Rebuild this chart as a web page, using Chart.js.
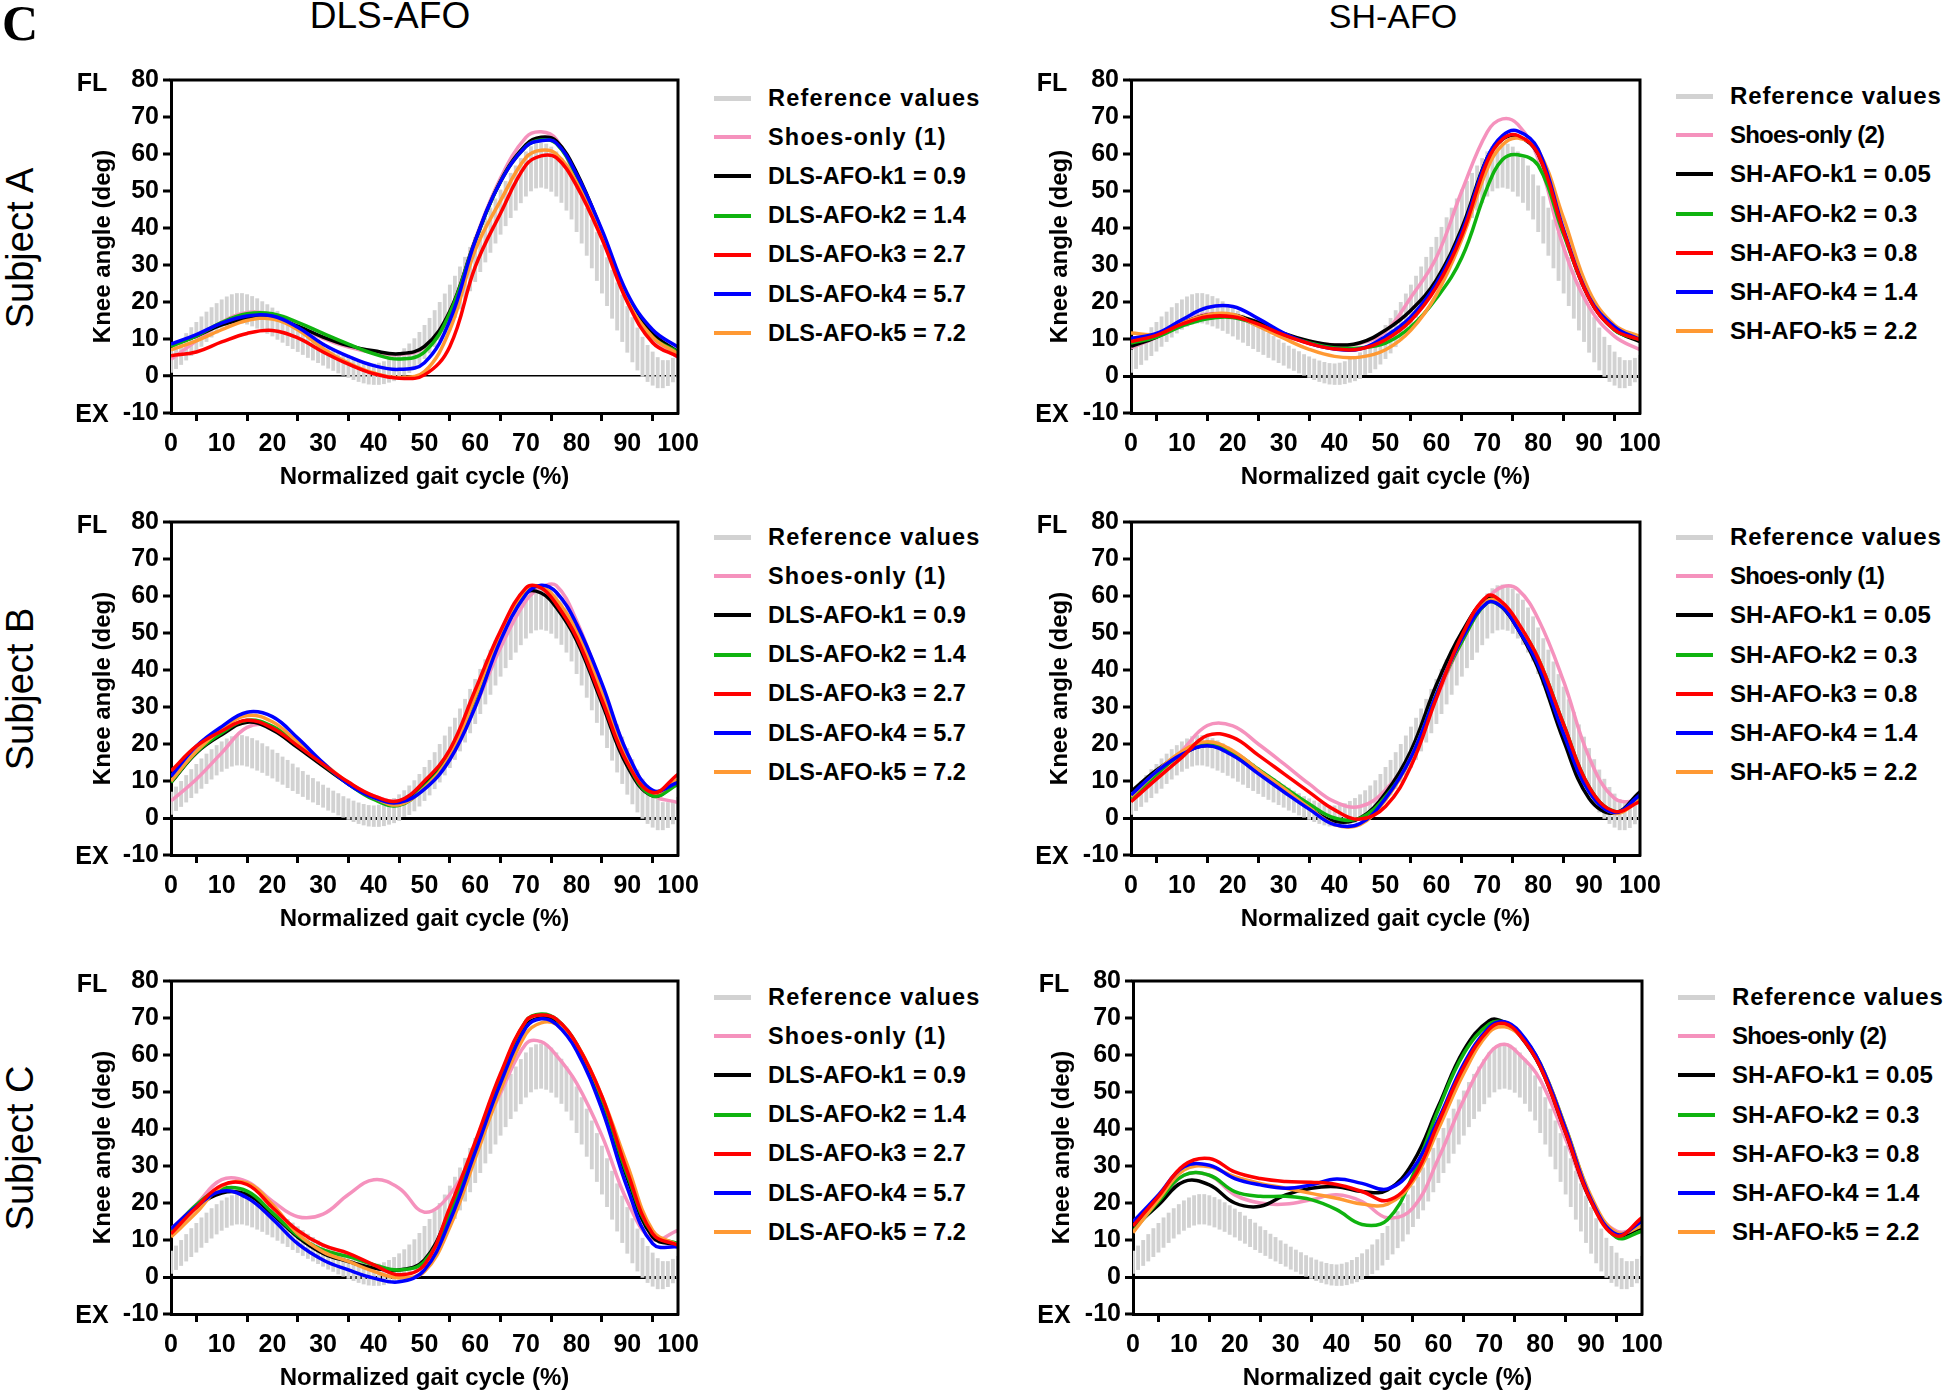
<!DOCTYPE html>
<html>
<head>
<meta charset="utf-8">
<script src="https://cdn.jsdelivr.net/npm/chart.js@4.4.1/dist/chart.umd.min.js"></script>
<style>
  body { margin: 0; background: #fff; width: 1946px; height: 1393px; position: relative; overflow: hidden;
         font-family: 'Liberation Sans', Arial, sans-serif; color: #000; }
  .abs { position: absolute; white-space: nowrap; }
  .ctr { transform: translate(-50%, -50%); }
  .rot { transform: translate(-50%, -50%) rotate(-90deg); }
  canvas { position: absolute; }
  .leg { position: absolute; height: 30px; display: flex; align-items: center; font-weight: bold; white-space: nowrap; }
  .leg span.ln { display: inline-block; width: 37px; height: 4px; }
</style>
</head>
<body>
<div class="abs" style="left:2px; top:-6px; font: bold 50px 'Liberation Serif', serif;">C</div>
<div class="abs ctr" style="left:390px; top:16px; font-size:37px;">DLS-AFO</div>
<div class="abs ctr" style="left:1393px; top:16px; font-size:34px;">SH-AFO</div>
<div class="abs rot" style="left:20px; top:248px; font-size:38px;">Subject A</div>
<div class="abs rot" style="left:20px; top:689px; font-size:38px;">Subject B</div>
<div class="abs rot" style="left:20px; top:1148px; font-size:38px;">Subject C</div>
<div id="root"></div>

<script>
// x positions (% gait cycle) of the sampled curves
const X_PCT = [0, 5, 10, 15, 20, 25, 30, 35, 40, 45, 50, 55, 60, 65, 70, 73, 76, 80, 85, 90, 95, 100];

// reference (normal) knee angle, mean and SD at every 1 %
const REF_MEAN = [
  4.0, 5.2, 6.5, 7.9, 9.3, 10.6, 12.0, 13.3, 14.5, 15.6,
  16.6, 17.4, 18.0, 18.3, 18.3, 18.0, 17.5, 16.9, 16.2, 15.4,
  14.6, 13.7, 12.8, 11.9, 11.0, 10.1, 9.2, 8.3, 7.5, 6.7,
  5.9, 5.1, 4.4, 3.7, 3.0, 2.4, 1.8, 1.3, 0.9, 0.6,
  0.5, 0.6, 0.9, 1.4, 2.0, 2.8, 3.7, 4.8, 6.0, 7.5,
  9.2, 10.9, 12.8, 14.8, 16.9, 19.1, 21.4, 23.8, 26.3, 28.9,
  31.5, 34.2, 36.8, 39.4, 41.9, 44.3, 46.6, 48.8, 50.8, 52.8,
  54.6, 56.0, 56.8, 57.0, 56.7, 55.9, 54.6, 52.9, 50.8, 48.4,
  45.2, 42.2, 39.0, 35.7, 32.3, 28.9, 25.5, 22.1, 18.8, 15.6,
  12.6, 9.8, 7.3, 5.2, 3.4, 2.0, 0.9, 0.5, 0.8, 1.6, 2.6
];
const REF_SD = [
  3.0, 3.2, 3.4, 3.6, 3.8, 3.9, 4.0, 4.0, 4.0, 4.0,
  4.0, 4.0, 4.0, 4.0, 4.0, 4.0, 4.0, 4.0, 3.9, 3.9,
  3.8, 3.8, 3.7, 3.7, 3.6, 3.5, 3.4, 3.3, 3.2, 3.1,
  3.0, 3.0, 2.9, 2.9, 2.8, 2.8, 2.8, 2.8, 2.8, 2.8,
  2.8, 2.9, 3.0, 3.1, 3.3, 3.5, 3.7, 3.9, 4.1, 4.3,
  4.5, 4.7, 4.9, 5.1, 5.3, 5.5, 5.6, 5.7, 5.8, 5.9,
  6.0, 6.0, 6.0, 6.0, 6.0, 6.0, 6.0, 6.0, 6.0, 6.0,
  6.0, 6.0, 6.0, 6.0, 6.0, 6.0, 6.0, 6.0, 6.0, 6.0,
  6.2, 6.3, 6.4, 6.5, 6.5, 6.5, 6.5, 6.5, 6.4, 6.3,
  6.2, 6.0, 5.7, 5.3, 4.9, 4.5, 4.1, 3.7, 3.4, 3.2, 3.0
];

// Subject A, DLS-AFO
const A_DLS_SHOES = [4.5, 9.5, 14.5, 17.2, 16.5, 13.5, 10.2, 7.8, 6.3, 5.8, 7.8, 17.5, 37, 53.5, 64.5, 66, 64, 53, 38, 20.5, 10, 5];
const A_DLS_K1 = [8.3, 10.8, 13.8, 15.5, 15.6, 13.5, 10.5, 8.2, 6.8, 6.0, 8.0, 17.5, 36.5, 52.7, 62.5, 64.5, 63.5, 55, 39, 21, 11.5, 6.5];
const A_DLS_K2 = [8.0, 10.8, 14.5, 16.8, 16.8, 14.5, 11.5, 8.6, 6.0, 4.6, 6.5, 17, 36.5, 52.5, 62, 63.8, 62.8, 54, 38.5, 20.5, 10.5, 6.5];
const A_DLS_K3 = [5.5, 6.5, 9.2, 11.5, 12.3, 10.3, 6.5, 3.2, 0.6, -0.6, 0.3, 8, 29.5, 44, 57, 59.5, 59, 51.4, 37, 20, 9, 5.2];
const A_DLS_K4 = [8.6, 11.2, 14.3, 16.2, 16.2, 13.2, 8.6, 5.3, 2.8, 1.8, 3.6, 15, 36.5, 52.5, 62, 63.6, 63, 54.5, 39.5, 22.3, 12.5, 7.8];
const A_DLS_K5 = [7.1, 9.5, 12.5, 15.0, 15.4, 12.5, 7.4, 3.5, 0.8, -0.4, 1.2, 12.5, 34, 47.4, 59, 61, 60, 52.3, 38, 20.5, 10.5, 6.0];

// Subject A, SH-AFO
const A_SH_SHOES = [7.6, 10.5, 14.5, 16.8, 16.3, 13.5, 10.7, 9.2, 8.4, 8.8, 12, 21.3, 32, 50, 66, 69.5, 68, 58.7, 34.7, 18.7, 10.7, 7.1];
const A_SH_K1 = [8.0, 10.5, 14.2, 16.5, 16.5, 14.5, 11.5, 9.5, 8.4, 9.0, 12.4, 17.8, 26, 40, 59, 64, 64.8, 60, 39, 21, 12.5, 9.3];
const A_SH_K2 = [8.9, 10.5, 13.5, 15.5, 15.8, 13.8, 11.1, 9.0, 7.6, 7.6, 8.9, 13.3, 21, 32, 51, 58.5, 59.8, 56.9, 38.2, 21.3, 12.4, 9.8];
const A_SH_K3 = [9.3, 11.0, 14.0, 16.0, 16.0, 14.0, 11.1, 8.8, 7.3, 7.3, 9.8, 15, 24, 38, 58, 64, 65, 60, 39, 21, 12.5, 9.8];
const A_SH_K4 = [10.2, 11.5, 15.2, 18.5, 18.8, 15.5, 11.6, 8.8, 7.3, 7.3, 10.7, 16, 25, 39, 59, 65, 66.2, 61.3, 39.5, 21.3, 13.3, 9.8];
const A_SH_K5 = [11.6, 11.3, 14.2, 16.5, 16.6, 13.5, 10.2, 7.2, 5.3, 5.1, 7.1, 12.4, 22, 37, 56, 62.5, 64.3, 61, 42.6, 23, 13.8, 10.7];

// Subject B, DLS-AFO
const B_DLS_SHOES = [4.6, 10.5, 17.6, 24.5, 24.7, 19.8, 14.0, 9.5, 6.0, 4.7, 8.7, 15.8, 30, 46, 58.7, 62.3, 62.8, 53.3, 35.4, 17.6, 6.4, 4.2];
const B_DLS_K1 = [9.6, 17.6, 22.5, 25.9, 23.8, 19.0, 14.0, 9.2, 5.5, 4.5, 9.6, 17.6, 32.8, 49.7, 60.9, 60.8, 56.9, 48, 31, 14, 6, 9.6];
const B_DLS_K2 = [9.6, 17.8, 23, 26.4, 24.8, 19.8, 14.5, 9.2, 5.0, 3.4, 8.5, 17, 32.5, 49.5, 61.5, 62.3, 58, 49.5, 32.5, 15, 6.0, 9.1];
const B_DLS_K3 = [12.7, 19.4, 23.5, 26.4, 24.3, 19.5, 14.5, 9.7, 6.0, 4.7, 10, 18.5, 34.6, 50.6, 62.2, 62.2, 57.8, 48.8, 31.9, 14.9, 6.9, 11.8];
const B_DLS_K4 = [11.3, 19.4, 24.7, 28.6, 27.4, 21.6, 14.9, 9.1, 5.5, 4.2, 7.8, 15.8, 30, 48, 60.4, 62.9, 61, 52.4, 36.3, 17.6, 7.5, 9.6];
const B_DLS_K5 = [10, 18, 24, 27.7, 26, 20.5, 14.9, 9.5, 5.5, 3.6, 8.2, 16.7, 32.8, 49.7, 61.8, 62.5, 59.1, 50.6, 33.7, 15.8, 6.9, 10.4];

// Subject B, SH-AFO
const B_SH_SHOES = [4.9, 11.5, 18.2, 25.0, 24.9, 20.0, 14.7, 9.2, 4.4, 3.1, 7.6, 17.3, 32.4, 47.6, 59.1, 62.5, 61.8, 53.8, 36.9, 16.4, 5.3, 4.5];
const B_SH_K1 = [7.1, 12.9, 17.3, 19.6, 17.3, 12.5, 7.6, 2.7, -0.9, 0, 6.7, 18.2, 36, 50.2, 59.3, 56.9, 51.1, 40.4, 20.9, 5.3, 1.3, 7.1];
const B_SH_K2 = [5.3, 11.8, 17.3, 19.9, 17.8, 13.2, 8.4, 3.8, 0, 0, 5.8, 16.4, 33.3, 47.6, 58.2, 56.9, 52.4, 43.1, 25.3, 8.4, 1.8, 4.9];
const B_SH_K3 = [4.4, 10.5, 16.4, 22.3, 21.8, 17.0, 12.0, 7.0, 2.2, -0.3, 3.1, 14, 32.4, 49.3, 60, 58.2, 52.9, 43.1, 25.3, 8.4, 1.8, 4.4];
const B_SH_K4 = [6.2, 12.5, 17.2, 19.5, 16.9, 12.0, 7.1, 2.4, -1.8, -1.5, 5.3, 16.4, 33.3, 48.4, 58.2, 56.9, 51.1, 41.3, 22.7, 7.1, 1.5, 6.2];
const B_SH_K5 = [5.8, 12.5, 18.0, 20.6, 18.2, 13.0, 8.0, 2.8, -1.8, -1.8, 4.9, 16.4, 32.9, 48.4, 58.7, 57.8, 52.4, 43.1, 24.4, 8.0, 1.3, 4.9];

// Subject C, DLS-AFO
const C_DLS_SHOES = [13, 19.6, 26.3, 25.8, 20.5, 16.3, 17, 22.3, 26.3, 24, 17.5, 22.3, 34.7, 49.7, 63, 63.6, 59.9, 52.4, 38.2, 20.5, 10.2, 12.6];
const C_DLS_K1 = [12.6, 18.8, 22.7, 22.3, 17, 10.8, 6.4, 4.2, 2.4, 1.9, 4.6, 17.9, 34.7, 53.3, 67.9, 70, 68.8, 62.1, 47.1, 26.7, 10.8, 8.6];
const C_DLS_K2 = [12.1, 19.5, 23.8, 23.2, 17.4, 11.2, 7.3, 5.5, 3.3, 1.9, 4.2, 17, 35.1, 54.2, 69.2, 71.1, 69.7, 63, 48, 27.6, 11.7, 9];
const C_DLS_K3 = [11.7, 18.8, 24.8, 25, 18.8, 12.6, 8.6, 6.4, 3.3, 0.6, 3.3, 18.8, 36.5, 55, 69.2, 70.8, 69.7, 63, 48.8, 28.5, 11.7, 8.6];
const C_DLS_K4 = [13, 19, 23.2, 21.4, 15.7, 9, 4.6, 1.9, -0.3, -1.3, 1.9, 15.2, 33.8, 52.4, 67.4, 69.8, 68.3, 61.2, 45.3, 24.1, 9, 8.1];
const C_DLS_K5 = [10.8, 17.4, 24.5, 25.4, 19.6, 11.7, 6.8, 4.2, 1.5, -0.2, 1.5, 13.5, 32, 50.6, 65.7, 68.7, 68.3, 63, 48.8, 30.3, 12.6, 8.6];

// Subject C, SH-AFO
const C_SH_SHOES = [13.3, 20.4, 27.5, 27.5, 22.2, 20, 19.7, 20.9, 22.2, 20.4, 16, 18.7, 32, 48, 60.4, 62.9, 60, 53.3, 37.3, 20.4, 12.4, 13.8];
const C_SH_K1 = [13.3, 19.5, 25.8, 24.9, 20, 19.1, 22.2, 24, 24.4, 23.1, 23.5, 31, 46.2, 61.3, 69.3, 68.8, 65.3, 56.8, 39, 20.4, 11.5, 13.3];
const C_SH_K2 = [12.4, 20.4, 27.5, 27.5, 23.1, 21.8, 21.8, 20.9, 18.2, 14.2, 15.5, 27.5, 45.3, 60.4, 68.4, 68.8, 65.7, 57.7, 40.4, 21.3, 10.7, 12.4];
const C_SH_K3 = [13.8, 21.8, 30.2, 32, 28.4, 26.6, 25.8, 25.6, 25, 23.1, 20.7, 26.6, 41.7, 56.8, 67, 68.5, 65.3, 56.8, 39, 20.4, 11.1, 16];
const C_SH_K4 = [14.9, 22.2, 29.8, 30.2, 26.6, 24.9, 24, 24.9, 26.5, 25.3, 23.8, 29.3, 42.6, 57.7, 67.5, 69, 66.2, 57.7, 40, 20.9, 11.5, 15.1];
const C_SH_K5 = [12, 20.9, 28.9, 29.8, 27.1, 25.3, 24, 22.6, 21.3, 19.7, 19.7, 25.8, 40, 55.1, 66.2, 67.6, 65.3, 57.7, 40.4, 21.8, 12, 13.8];

const DLS_LABELS = ['DLS-AFO-k1 = 0.9', 'DLS-AFO-k2 = 1.4', 'DLS-AFO-k3 = 2.7', 'DLS-AFO-k4 = 5.7', 'DLS-AFO-k5 = 7.2'];
const SH_LABELS = ['SH-AFO-k1 = 0.05', 'SH-AFO-k2 = 0.3', 'SH-AFO-k3 = 0.8', 'SH-AFO-k4 = 1.4', 'SH-AFO-k5 = 2.2'];

const COL_REF = '#d2d2d2';
const COL_SHOES = '#f592bd';
const K_COLORS = ['#000000', '#0fb30f', '#ff0000', '#0000ff', '#ff9933'];
const K_ORDER = [6, 5, 2, 3, 4];   // lower = drawn on top

const FONT = "'Liberation Sans', Arial, sans-serif";

// plot area: left/top in page px
const panels = [
  { left: 171, top: 77, w: 507, right: false, shoes: 'Shoes-only (1)', labels: DLS_LABELS, zero: 1.5,
    data: [A_DLS_SHOES, A_DLS_K1, A_DLS_K2, A_DLS_K3, A_DLS_K4, A_DLS_K5], legTop: 98 },
  { left: 1131, top: 77, w: 509, right: true, shoes: 'Shoes-only (2)', labels: SH_LABELS, zero: 3,
    data: [A_SH_SHOES, A_SH_K1, A_SH_K2, A_SH_K3, A_SH_K4, A_SH_K5], legTop: 96 },
  { left: 171, top: 519, w: 507, right: false, shoes: 'Shoes-only (1)', labels: DLS_LABELS, zero: 3,
    data: [B_DLS_SHOES, B_DLS_K1, B_DLS_K2, B_DLS_K3, B_DLS_K4, B_DLS_K5], legTop: 537 },
  { left: 1131, top: 519, w: 509, right: true, shoes: 'Shoes-only (1)', labels: SH_LABELS, zero: 3,
    data: [B_SH_SHOES, B_SH_K1, B_SH_K2, B_SH_K3, B_SH_K4, B_SH_K5], legTop: 537 },
  { left: 171, top: 978, w: 507, right: false, shoes: 'Shoes-only (1)', labels: DLS_LABELS, zero: 3,
    data: [C_DLS_SHOES, C_DLS_K1, C_DLS_K2, C_DLS_K3, C_DLS_K4, C_DLS_K5], legTop: 997 },
  { left: 1133, top: 978, w: 509, right: true, shoes: 'Shoes-only (2)', labels: SH_LABELS, zero: 3,
    data: [C_SH_SHOES, C_SH_K1, C_SH_K2, C_SH_K3, C_SH_K4, C_SH_K5], legTop: 997 }
];

const Y_AXIS_W = 111, X_AXIS_H = 82, PAD_TOP = 16, PAD_RIGHT = 36, PLOT_H = 336;
const root = document.getElementById('root');

// top + right frame of the plot box
const framePlugin = {
  id: 'frame',
  afterDatasetsDraw(chart) {
    const { ctx, chartArea: a } = chart;
    ctx.save();
    ctx.strokeStyle = '#000';
    ctx.lineWidth = 3;
    ctx.beginPath();
    ctx.moveTo(a.left - 1.5, a.top);
    ctx.lineTo(a.right, a.top);
    ctx.lineTo(a.right, a.bottom + 1.5);
    ctx.stroke();
    ctx.restore();
  }
};

function lineDs(values, color, order) {
  return {
    type: 'line',
    data: X_PCT.map((x, i) => ({ x: x, y: values[i] })),
    borderColor: color,
    borderWidth: 3.5,
    pointRadius: 0,
    tension: 0.4,
    fill: false,
    order: order
  };
}

function addText(txt, x, y, font) {
  const d = document.createElement('div');
  d.className = 'abs ctr';
  d.textContent = txt;
  d.style.cssText += `left:${x}px;top:${y}px;font:${font};`;
  root.appendChild(d);
  return d;
}

panels.forEach(p => {
  const cv = document.createElement('canvas');
  cv.width = Y_AXIS_W + p.w + PAD_RIGHT;
  cv.height = PAD_TOP + PLOT_H + X_AXIS_H;
  cv.style.left = (p.left - Y_AXIS_W) + 'px';
  cv.style.top = (p.top - PAD_TOP) + 'px';
  root.appendChild(cv);

  const refBars = {
    type: 'bar',
    data: REF_MEAN.map((m, i) => ({ x: i, y: [m - REF_SD[i], m + REF_SD[i]] })),
    backgroundColor: COL_REF,
    borderWidth: 0,
    barThickness: 3.2,
    grouped: false,
    order: 20
  };

  const datasets = [refBars, lineDs(p.data[0], COL_SHOES, 8)];
  for (let k = 0; k < 5; k++) datasets.push(lineDs(p.data[k + 1], K_COLORS[k], K_ORDER[k]));

  const zw = p.zero;
  new Chart(cv.getContext('2d'), {
    type: 'line',
    data: { datasets },
    plugins: [framePlugin],
    options: {
      responsive: false,
      devicePixelRatio: 1,
      animation: false,
      events: [],
      layout: { padding: { left: 0, right: PAD_RIGHT, top: PAD_TOP, bottom: 0 } },
      plugins: { legend: { display: false }, tooltip: { enabled: false } },
      scales: {
        x: {
          type: 'linear', min: 0, max: 100, offset: false,
          ticks: { stepSize: 10, autoSkip: false, maxRotation: 0, color: '#000', padding: 8,
                   font: { family: FONT, size: 25, weight: 'bold' } },
          grid: { drawOnChartArea: false, drawTicks: true, tickLength: 8, tickWidth: 3, tickColor: '#000' },
          border: { display: true, color: '#000', width: 3 },
          title: { display: true, text: 'Normalized gait cycle (%)', color: '#000',
                   font: { family: FONT, size: 24, weight: 'bold' }, padding: { top: 0, bottom: 3 } },
          afterFit(s) { s.height = X_AXIS_H; }
        },
        y: {
          type: 'linear', min: -10, max: 80,
          ticks: { stepSize: 10, color: '#000', padding: 4,
                   font: { family: FONT, size: 25, weight: 'bold' } },
          grid: {
            drawOnChartArea: true, drawTicks: true, tickLength: 8, tickWidth: 3, tickColor: '#000',
            color: c => (c.tick && c.tick.value === 0) ? '#000' : 'rgba(0,0,0,0)',
            lineWidth: c => (c.tick && c.tick.value === 0) ? zw : 0
          },
          border: { display: true, color: '#000', width: 3 },
          title: { display: true, text: 'Knee angle (deg)', color: '#000',
                   font: { family: FONT, size: 24, weight: 'bold' },
                   padding: { top: p.right ? 26 : 29, bottom: 0 } },
          afterFit(s) { s.width = Y_AXIS_W; }
        }
      }
    }
  });

  // FL / EX labels
  const lblFont = `bold 25px ${FONT}`;
  addText('FL', p.left - 79, p.top + 5, lblFont);
  addText('EX', p.left - 79, p.top + PLOT_H, lblFont);

  // legend
  const lx = p.left + p.w + 36;
  const names = ['Reference values', p.shoes].concat(p.labels);
  const colors = [COL_REF, COL_SHOES].concat(K_COLORS);
  names.forEach((n, i) => {
    const row = document.createElement('div');
    row.className = 'leg';
    row.style.left = lx + 'px';
    row.style.top = (p.legTop + i * 39.2 - 15) + 'px';
    row.style.fontFamily = FONT;
    row.style.fontSize = (p.right ? 24 : 23.5) + 'px';
    if (!p.right && i < 2) row.style.letterSpacing = '1.2px';
    if (p.right && i === 0) row.style.letterSpacing = '0.9px';
    if (p.right && i === 1) row.style.letterSpacing = '-0.8px';
    const ln = document.createElement('span');
    ln.className = 'ln';
    ln.style.background = colors[i];
    if (i === 0) ln.style.height = '5px';
    const tx = document.createElement('span');
    tx.textContent = n;
    tx.style.marginLeft = '17px';
    row.appendChild(ln);
    row.appendChild(tx);
    root.appendChild(row);
  });
});
</script>
</body>
</html>
